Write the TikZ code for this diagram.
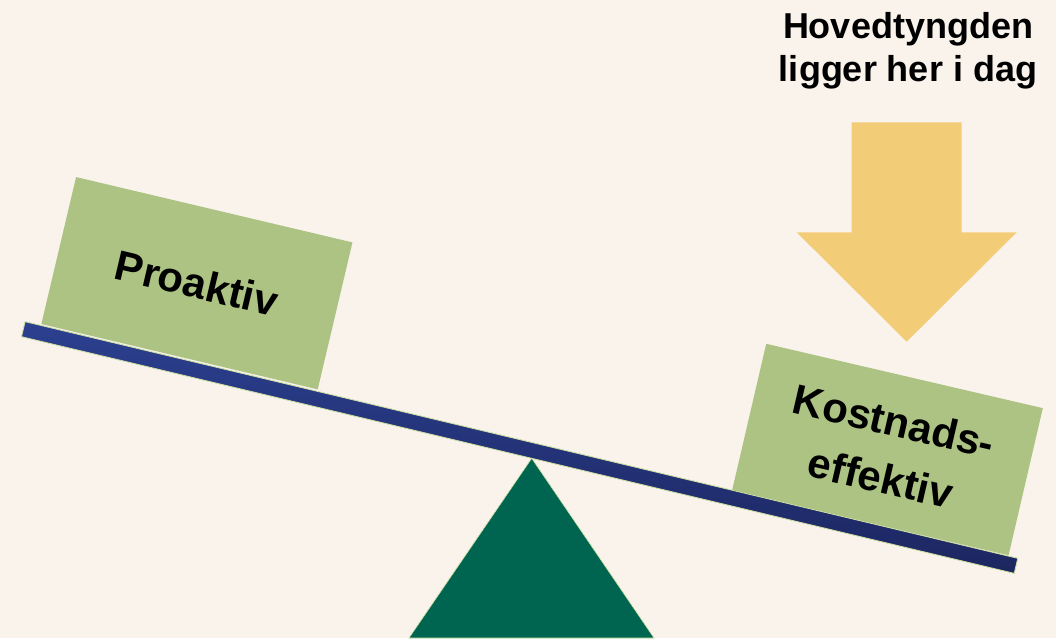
\documentclass[tikz,border=0pt]{standalone}
\usepackage{fontspec}
\setmainfont{Liberation Sans}
\definecolor{bg}{RGB}{249,243,236}
\definecolor{boxgreen}{RGB}{173,195,131}
\definecolor{arrowyellow}{RGB}{243,204,119}
\definecolor{beamtop}{RGB}{44,64,144}
\definecolor{beambot}{RGB}{28,38,96}
\definecolor{rim}{RGB}{205,224,160}
\definecolor{fulcrum}{RGB}{0,101,80}
\tikzset{
  weightbox/.style={fill=boxgreen, draw=none, minimum width=284pt, minimum height=151pt,
    inner sep=0pt, align=center, font=\bfseries\fontsize{42}{58}\selectfont},
  titletext/.style={font=\bfseries\fontsize{36}{43}\selectfont, anchor=base, inner sep=0pt},
  beamstyle/.style={top color=beamtop, bottom color=beambot, draw=rim, line width=0.8pt,
    minimum width=1020.5pt, minimum height=15.4pt, inner sep=0pt},
}
\begin{document}
\begin{tikzpicture}[x=1pt,y=-1pt]
\fill[bg] (0,0) rectangle (1056,638);
\useasboundingbox (0,0) rectangle (1056,638);
% fulcrum
\filldraw[fill=fulcrum, draw=rim, line width=0.6pt] (531.7,458.3) -- (654,638) -- (409,638) -- cycle;
% weights
\node[weightbox, rotate=-13.3] (proaktiv) at (196.9,283.2) {Proaktiv};
\node[weightbox, rotate=-13.1] (kost) at (887.4,449.5) {Kostnads-\\effektiv};
% beam
\node[beamstyle, rotate=-13.41] (beam) at (519.65,447.5) {};
% arrow
\fill[arrowyellow] (851.7,122.3) -- (961.7,122.3) -- (961.7,232.3) -- (1016.7,232.3)
  -- (906.7,341.7) -- (796.7,232.3) -- (851.7,232.3) -- cycle;
% title
\node[titletext] (t1) at (908,38.3) {Hovedtyngden};
\node[titletext] (t2) at (908,81.7) {ligger her i dag};
\end{tikzpicture}
\end{document}
